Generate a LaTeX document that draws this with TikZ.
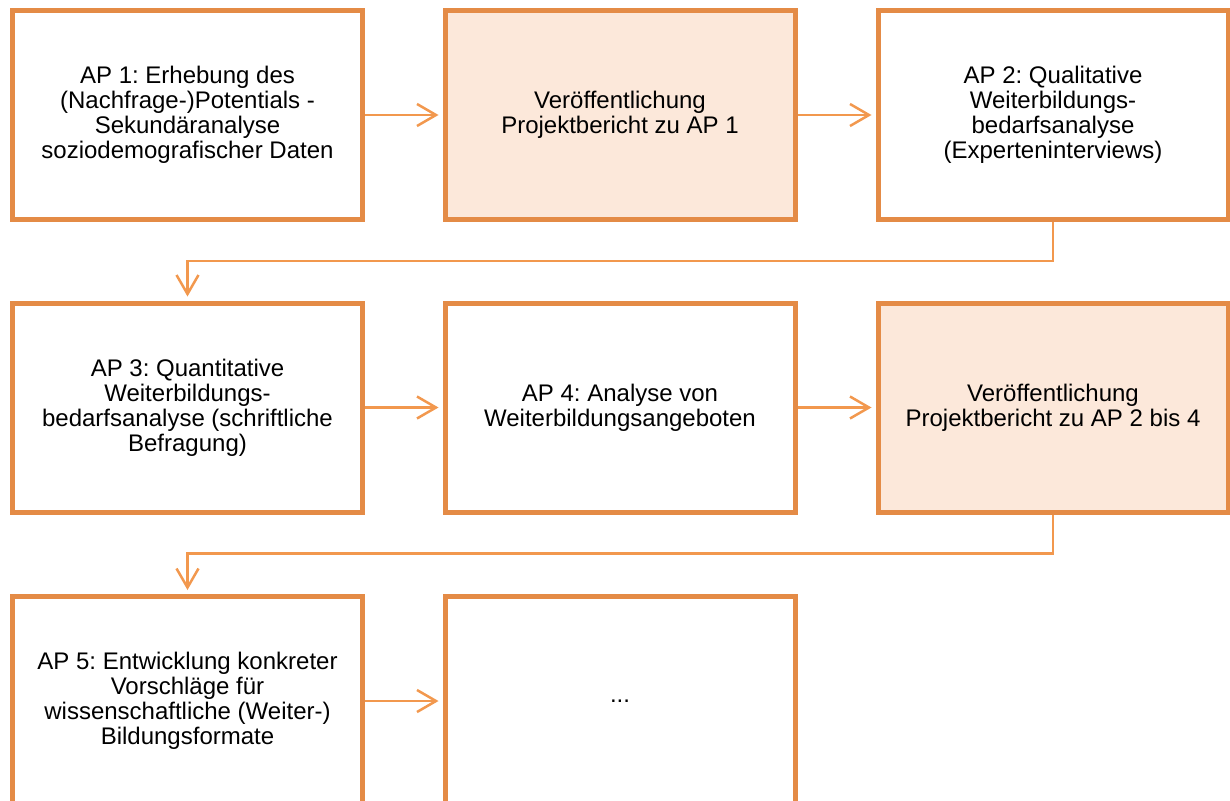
\documentclass[tikz,border=0pt]{standalone}
\usepackage{fontspec}
\setmainfont{Liberation Sans}
\usetikzlibrary{arrows.meta}
\definecolor{boxline}{RGB}{228,139,70}
\definecolor{linkline}{RGB}{242,152,78}
\definecolor{hlfill}{RGB}{252,232,218}
\frenchspacing
\begin{document}
\begin{tikzpicture}[x=1pt,y=-1pt,
  wp/.style={draw=boxline, line width=5pt, fill=white,
    minimum width=350pt, minimum height=209pt, inner sep=0pt,
    align=center, font=\fontsize{24}{25}\selectfont},
  pub/.style={wp, fill=hlfill},
  link/.style={draw=linkline, line width=2.5pt,
    -{Straight Barb[length=19pt,width=22pt]}, shorten >=4pt}]
\clip (0,0) rectangle (1230,800);

% row 1
\node[wp]  (ap1) at (187.5,115) {AP 1: Erhebung des\\(Nachfrage-)Potentials -\\Sekundäranalyse\\soziodemografischer Daten};
\node[pub] (pb1) at (620,115)   {Veröffentlichung\\Projektbericht zu AP 1};
\node[wp]  (ap2) at (1053,115)  {AP 2: Qualitative\\Weiterbildungs-\\bedarfsanalyse\\(Experteninterviews)};

% row 2
\node[wp]  (ap3) at (187.5,407.5) {AP 3: Quantitative\\Weiterbildungs-\\bedarfsanalyse (schriftliche\\Befragung)};
\node[wp]  (ap4) at (620,407.5)   {AP 4: Analyse von\\Weiterbildungsangeboten};
\node[pub] (pb2) at (1053,407.5)  {Veröffentlichung\\Projektbericht zu AP 2 bis 4};

% row 3
\node[wp]  (ap5) at (187.5,701) {AP 5: Entwicklung konkreter\\Vorschläge für\\wissenschaftliche (Weiter-)\\Bildungsformate};
\node[wp]  (nxt) at (620,701)   {...};

% connectors
\draw[link] (ap1) -- (pb1);
\draw[link] (pb1) -- (ap2);
\draw[link] (ap2.south) -- ++(0,39) -| (ap3.north);
\draw[link] (ap3) -- (ap4);
\draw[link] (ap4) -- (pb2);
\draw[link] (pb2.south) -- ++(0,39) -| (ap5.north);
\draw[link] (ap5) -- (nxt);
\end{tikzpicture}
\end{document}
